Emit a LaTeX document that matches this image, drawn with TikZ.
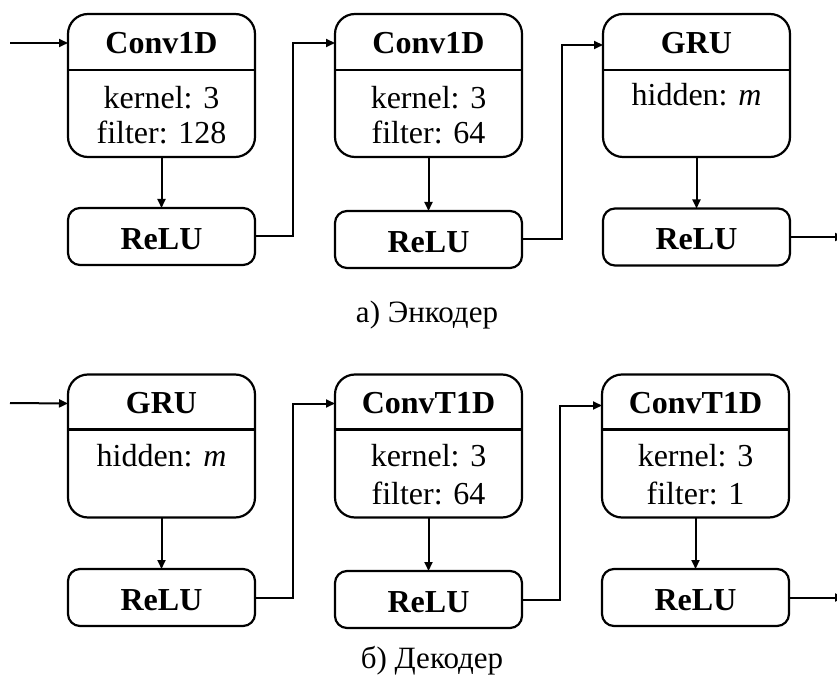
\documentclass[tikz,border=0pt]{standalone}
\usepackage{fontspec}
\setmainfont{Liberation Serif}
\usetikzlibrary{arrows.meta,calc}
\begin{document}
\begin{tikzpicture}[x=1pt,y=-1pt,
  blk/.style={draw, line width=2.2pt, rounded corners=20pt, minimum width=187pt, minimum height=143pt, inner sep=0pt, outer sep=0pt},
  act/.style={draw, line width=2.2pt, rounded corners=12pt, minimum width=187pt, minimum height=57pt, inner sep=0pt, outer sep=0pt, text height=26pt, text depth=0pt, font=\fontsize{32}{34}\selectfont\bfseries},
  ttl/.style={anchor=base, inner sep=0pt, font=\fontsize{32}{34}\selectfont\bfseries},
  txt/.style={anchor=base, inner sep=0pt, font=\fontsize{32}{34}\selectfont},
  capt/.style={anchor=base, inner sep=0pt, font=\fontsize{31}{34}\selectfont},
  arr/.style={line width=2pt, -{Triangle[length=9pt,width=8pt]}},
  ln/.style={line width=2.2pt}]
\useasboundingbox (0,0) rectangle (837,684);

% ---------- Encoder ----------
\node[blk] (b1) at (161.5,85.5) {};
\node[blk] (b2) at (428.5,85.5) {};
\node[blk] (b3) at (696.5,85.5) {};
\node[act] (r1) at (161.5,236.5) {ReLU};
\node[act] (r2) at (428.5,239.5) {ReLU};
\node[act] (r3) at (696.5,237) {ReLU};

\foreach \b in {b1,b2,b3}{
  \draw[ln] ([yshift=-56pt]\b.north west) -- ([yshift=-56pt]\b.north east);
}
\node[ttl] (t1) at ([yshift=-40pt]b1.north) {Conv1D};
\node[txt] (k1) at ([yshift=-95pt]b1.north) {kernel: 3};
\node[txt] (f1) at ([yshift=-130pt]b1.north) {filter: 128};
\node[ttl] (t2) at ([yshift=-40pt]b2.north) {Conv1D};
\node[txt] (k2) at ([yshift=-95pt]b2.north) {kernel: 3};
\node[txt] (f2) at ([yshift=-130pt]b2.north) {filter: 64};
\node[ttl] (t3) at ([yshift=-40pt]b3.north) {GRU};
\node[txt] (h3) at ([yshift=-92pt]b3.north) {hidden: \textit{m}};

\coordinate (s1) at (10,43);
\coordinate (e1) at (844,237);
\draw[arr] (s1) -- ([yshift=-29pt]b1.north west);
\draw[arr] (b1.south) -- (r1.north);
\draw[arr] (b2.south) -- (r2.north);
\draw[arr] (b3.south) -- (r3.north);
\draw[arr] (r1.east) -- ++(38,0) |- ([yshift=-29pt]b2.north west);
\draw[arr] (r2.east) -- ++(40,0) |- ([yshift=-31pt]b3.north west);
\draw[arr] (r3.east) -- (e1);

\node[capt] (c1) at (427,322) {а) Энкодер};

% ---------- Decoder ----------
\node[blk] (d1) at (161.5,446) {};
\node[blk] (d2) at (428.5,446) {};
\node[blk] (d3) at (695.5,446) {};
\node[act] (q1) at (161.5,597.5) {ReLU};
\node[act] (q2) at (428.5,599.5) {ReLU};
\node[act] (q3) at (695.5,597.5) {ReLU};

\foreach \b in {d1,d2,d3}{
  \draw[ln] ([yshift=-55pt]\b.north west) -- ([yshift=-55pt]\b.north east);
}
\node[ttl] (u1) at ([yshift=-39pt]d1.north) {GRU};
\node[txt] (h1) at ([yshift=-92pt]d1.north) {hidden: \textit{m}};
\node[ttl] (u2) at ([yshift=-39pt]d2.north) {ConvT1D};
\node[txt] (k4) at ([yshift=-92pt]d2.north) {kernel: 3};
\node[txt] (f4) at ([yshift=-130pt]d2.north) {filter: 64};
\node[ttl] (u3) at ([yshift=-39pt]d3.north) {ConvT1D};
\node[txt] (k5) at ([yshift=-92pt]d3.north) {kernel: 3};
\node[txt] (f5) at ([yshift=-130pt]d3.north) {filter: 1};

\coordinate (s2) at (10,403);
\coordinate (e2) at (844,597.5);
\draw[arr] (s2) -- ([yshift=-29pt]d1.north west);
\draw[arr] (d1.south) -- (q1.north);
\draw[arr] (d2.south) -- (q2.north);
\draw[arr] (d3.south) -- (q3.north);
\draw[arr] (q1.east) -- ++(38,0) |- ([yshift=-29pt]d2.north west);
\draw[arr] (q2.east) -- ++(38,0) |- ([yshift=-31pt]d3.north west);
\draw[arr] (q3.east) -- (e2);

\node[capt] (c2) at (432,668) {б) Декодер};
\end{tikzpicture}
\end{document}
